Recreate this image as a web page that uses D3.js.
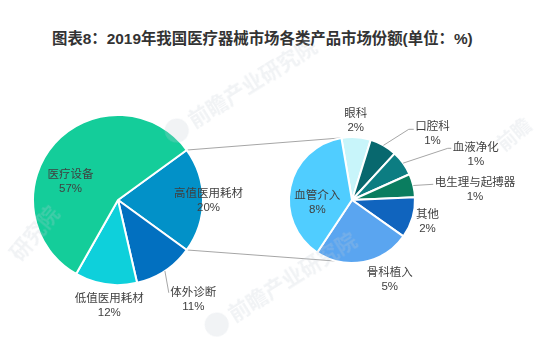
<!DOCTYPE html>
<html><head><meta charset="utf-8">
<script src="https://cdn.jsdelivr.net/npm/d3@7"></script>
<style>body{margin:0;background:#fff;} svg{display:block}</style>
</head><body><svg id="c" width="558" height="337"></svg>
<script>
// ---- data ----
const title = "图表8：2019年我国医疗器械市场各类产品市场份额(单位：%)";
const mainCategories = ["高值医用耗材", "体外诊断", "低值医用耗材", "医疗设备"];
const mainValues = [20, 11.4, 11.8, 56.8];
const subCategories = ["眼科", "口腔科", "血液净化", "电生理与起搏器", "其他", "骨科植入", "血管介入"];
const subValues = [1.5, 1.4, 1.3, 1.2, 2.1, 4.9, 7.6];
const watermarkTexts = ["前瞻产业研究院", "前瞻产业研究院", "研究院", "前瞻"];

// ---- styles / layout ----
const mainColors = ["#0291C8", "#0270C0", "#0ED0DB", "#14CD9A"];
const subColors = ["#C8F5FA", "#08686E", "#0C7D82", "#0A7D5F", "#1064BE", "#5AA5F0", "#50CDFF"];
const main = {cx: 118, cy: 200, r: 85};
const sub = {cx: 352, cy: 200, r: 63};
const deg = Math.PI / 180;
// label name-line centres relative to the pie centre
const mainLabelPos = [[90.5, -8], [75.3, 91], [-8.7, 96.5], [-47.5, -26.8]];
const subLabelPos = [[3.7, -87.6], [80.5, -75.3], [123.8, -53.6], [123, -18.6], [75.5, 13], [37.7, 71.4], [-34.7, -6]];
// leader lines: index -> {hx: horizontal run, dy: end offset from label centre}
const mainLeaders = {1: {hx: 0, dy: 1.8}};
const subLeaders = {1: {hx: 5, dy: 4.6}, 2: {hx: 3.5, dy: 1.9}, 3: {hx: 0, dy: 2.9}};
const lineGap = 15;
const labelFont = "'Noto Sans CJK SC', 'Noto Sans', sans-serif";
const numFont = "'Liberation Sans', 'Noto Sans', sans-serif";
const labelSize = 11.5;

const svg = d3.select("#c");

// watermarks (faint)
const wm = [
  {x: 194, y: 128, a: -32, s: 21, logo: true},
  {x: 234, y: 322, a: -32, s: 21, logo: true},
  {x: 20, y: 262, a: -50, s: 21, logo: false},
  {x: 504, y: 152, a: -40, s: 19, logo: false}
];

svg.append("text")
  .attr("x", 52).attr("y", 38.5)
  .attr("dominant-baseline", "central")
  .attr("font-family", "'Liberation Sans', 'Noto Sans CJK SC', sans-serif")
  .attr("font-weight", "bold").attr("font-size", 15.4)
  .attr("fill", "#333333")
  .text(title);

const mainSum = d3.sum(mainValues);
const mainStart = Math.PI / 2 - Math.PI * mainValues[0] / mainSum;
const mainPie = d3.pie().sort(null).value(d => d).startAngle(mainStart).endAngle(mainStart + 2 * Math.PI);
const subStart = -9.7 * deg;
const subPie = d3.pie().sort(null).value(d => d).startAngle(subStart).endAngle(subStart + 2 * Math.PI);

const mainArcs = mainPie(mainValues);
const subArcs = subPie(subValues);

const arcMain = d3.arc().innerRadius(0).outerRadius(main.r);
const arcSub = d3.arc().innerRadius(0).outerRadius(sub.r);

function polar(c, r, a) { return [c.cx + r * Math.sin(a), c.cy - r * Math.cos(a)]; }

// connector lines between pies
const split = mainArcs[0];
const connectors = [
  [polar(main, main.r, split.startAngle), polar(sub, sub.r, subStart)],
  [polar(main, main.r, split.endAngle), polar(sub, sub.r, 194 * deg)]
];
svg.append("g").selectAll("line").data(connectors).join("line")
  .attr("x1", d => d[0][0]).attr("y1", d => d[0][1])
  .attr("x2", d => d[1][0]).attr("y2", d => d[1][1])
  .attr("stroke", "#A6A6A6").attr("stroke-width", 1);

svg.append("g").attr("transform", `translate(${main.cx},${main.cy})`)
  .selectAll("path").data(mainArcs).join("path")
  .attr("d", arcMain)
  .attr("fill", (d, i) => mainColors[i])
  .attr("stroke", "#fff").attr("stroke-width", 2).attr("stroke-linejoin", "round");

svg.append("g").attr("transform", `translate(${sub.cx},${sub.cy})`)
  .selectAll("path").data(subArcs).join("path")
  .attr("d", arcSub)
  .attr("fill", (d, i) => subColors[i])
  .attr("stroke", "#fff").attr("stroke-width", 2).attr("stroke-linejoin", "round");

const wmg = svg.append("g").attr("fill", "#c3ccd5").attr("opacity", 0.24);
wm.forEach((w, i) => {
  const g = wmg.append("g").attr("transform", `translate(${w.x},${w.y}) rotate(${w.a})`);
  if (w.logo) g.append("circle").attr("cx", -16).attr("cy", -7).attr("r", 12);
  g.append("text").attr("x", 0).attr("y", 0)
    .attr("font-family", labelFont).attr("font-weight", "bold").attr("font-size", w.s)
    .text(watermarkTexts[i]);
});

// labels
function drawLabels(arcs, cats, vals, center, pos, leaders, r) {
  const g = svg.append("g");
  arcs.forEach((d, i) => {
    const x = center.cx + pos[i][0], y = center.cy + pos[i][1];
    const t = g.append("text").attr("x", x).attr("y", y)
      .attr("text-anchor", "middle").attr("dominant-baseline", "central")
      .attr("font-family", labelFont).attr("font-size", labelSize).attr("fill", "#404040");
    const t1 = t.append("tspan").attr("x", x).attr("dy", 0).text(cats[i]);
    t.append("tspan").attr("x", x).attr("dy", lineGap)
      .attr("font-family", numFont)
      .text(Math.round(vals[i]) + "%");
    if (leaders[i]) {
      const L = leaders[i];
      const w = t1.node().getComputedTextLength();
      const mid = (d.startAngle + d.endAngle) / 2;
      const p0 = polar(center, r, mid);
      const ex = x - w / 2 - 1.5, ey = y + L.dy;
      const pts = [p0, [ex - L.hx, ey], [ex, ey]];
      g.append("path").attr("d", d3.line()(pts))
        .attr("fill", "none").attr("stroke", "#A6A6A6").attr("stroke-width", 1);
    }
  });
}
drawLabels(mainArcs, mainCategories, mainValues, main, mainLabelPos, mainLeaders, main.r);
drawLabels(subArcs, subCategories, subValues, sub, subLabelPos, subLeaders, sub.r);
</script>
</body></html>
